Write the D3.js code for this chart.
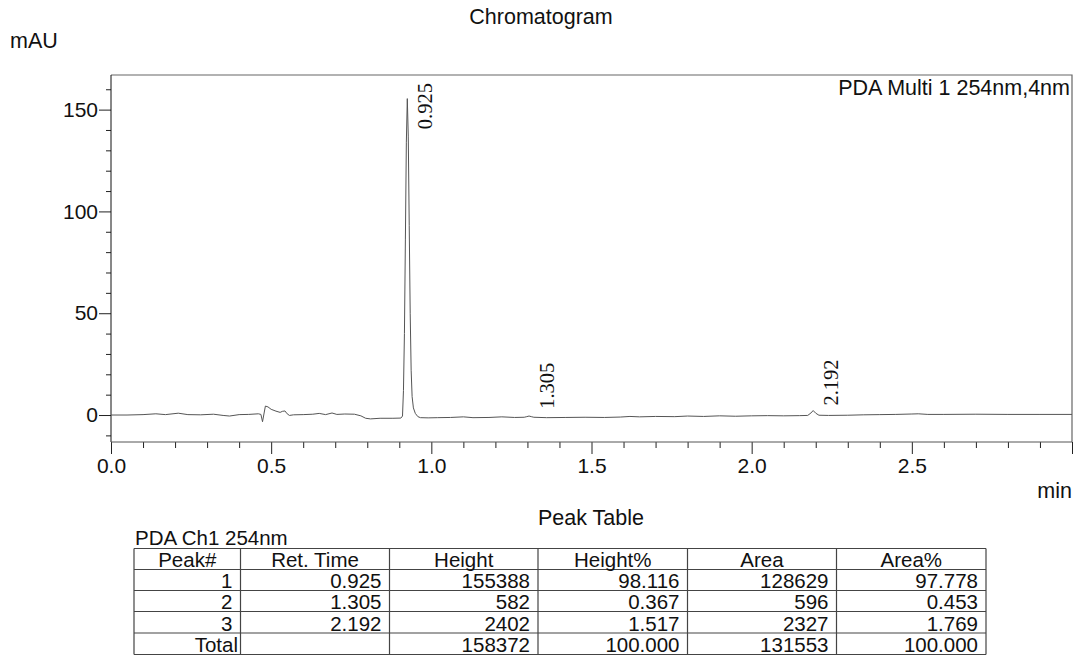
<!DOCTYPE html>
<html>
<head>
<meta charset="utf-8">
<script src="https://cdn.jsdelivr.net/npm/d3@7"></script>
<style>
  html, body { margin: 0; padding: 0; background: #fff; }
  svg { display: block; }
  text { font-family: "Liberation Sans", Arial, sans-serif; fill: #111; }
</style>
</head>
<body>
<svg id="chart" width="1077" height="657"></svg>
<script>
// Detector trace: retention time (min) and absorbance (mAU)
const traceTime = [
  0.000, 0.050, 0.100, 0.140, 0.170, 0.210, 0.240, 0.280, 0.320, 0.350,
  0.370, 0.400, 0.430, 0.460, 0.468, 0.473, 0.478, 0.482, 0.490, 0.500,
  0.515, 0.528, 0.535, 0.543, 0.550, 0.557, 0.570, 0.600, 0.630, 0.650,
  0.670, 0.690, 0.705, 0.730, 0.760, 0.780, 0.795, 0.810, 0.840, 0.880,
  0.905, 0.910, 0.913, 0.916, 0.919, 0.922, 0.925, 0.928, 0.931, 0.934,
  0.937, 0.940, 0.944, 0.950, 0.958, 0.966, 0.990, 1.020, 1.060, 1.100,
  1.130, 1.180, 1.220, 1.260, 1.290, 1.298, 1.305, 1.312, 1.320, 1.360,
  1.420, 1.480, 1.540, 1.590, 1.620, 1.650, 1.700, 1.760, 1.800, 1.850,
  1.900, 1.950, 2.000, 2.050, 2.100, 2.150, 2.175, 2.185, 2.192, 2.200,
  2.210, 2.240, 2.300, 2.350, 2.400, 2.450, 2.500, 2.520, 2.550, 2.600,
  2.700, 2.800, 2.900, 3.000
];
const traceSignal = [
  0.0, 0.0, 0.2, 0.6, 0.2, 0.9, 0.2, 0.1, 0.4, -0.2,
  -0.5, 0.2, 0.3, 0.6, 0.3, -3.3, 1.0, 4.4, 4.0, 2.8,
  1.9, 1.3, 1.8, 2.0, 0.6, -0.2, 0.1, 0.2, 0.4, 0.8,
  0.2, 1.0, 0.3, 0.5, 0.4, -0.4, -1.6, -1.9, -1.6, -1.6,
  -1.5, -0.5, 12.0, 40.0, 86.0, 134.0, 155.4, 137.0, 93.0, 50.0,
  22.0, 9.0, 3.5, 0.8, -0.8, -1.3, -1.4, -1.3, -1.2, -0.9,
  -1.3, -1.2, -0.9, -1.2, -1.1, -0.8, -0.5, -0.8, -1.1, -1.3,
  -1.2, -1.1, -1.2, -1.0, -0.7, -0.9, -0.7, -0.8, -0.5, -0.7,
  -0.4, -0.6, -0.4, -0.3, -0.4, -0.3, -0.2, 1.0, 2.2, 0.9,
  -0.1, -0.2, -0.1, 0.1, 0.2, 0.3, 0.5, 0.6, 0.3, 0.3,
  0.4, 0.3, 0.3, 0.3
];

// Integrated peaks (retention time, apex in mAU)
const peakTimes = [0.925, 1.305, 2.192];
const peakApex = [155.4, 0.58, 2.2];
const peakLabels = ["0.925", "1.305", "2.192"];

// Axis ticks
const yMajorTicks = [0, 50, 100, 150];
const yMinorTicks = [-10, 10, 20, 30, 40, 60, 70, 80, 90, 110, 120, 130, 140, 160];
const xMajorTicks = [0.0, 0.5, 1.0, 1.5, 2.0, 2.5, 3.0];
const xLabelTicks = [0.0, 0.5, 1.0, 1.5, 2.0, 2.5];
const xMinorTicks = [0.1,0.2,0.3,0.4,0.6,0.7,0.8,0.9,1.1,1.2,1.3,1.4,1.6,1.7,1.8,1.9,2.1,2.2,2.3,2.4,2.6,2.7,2.8,2.9];

// Peak table
const tableHeaders = ["Peak#", "Ret. Time", "Height", "Height%", "Area", "Area%"];
const colPeak = ["1", "2", "3", "Total"];
const colRetTime = ["0.925", "1.305", "2.192", ""];
const colHeight = ["155388", "582", "2402", "158372"];
const colHeightPct = ["98.116", "0.367", "1.517", "100.000"];
const colArea = ["128629", "596", "2327", "131553"];
const colAreaPct = ["97.778", "0.453", "1.769", "100.000"];

const svg = d3.select("#chart");
const plot = { left: 111, right: 1072, top: 75, bottom: 442 };
const FS = "21.5px";      // titles and captions
const FS_CELL = "20.5px"; // table cells

const x = d3.scaleLinear().domain([0, 3]).range([plot.left, plot.right]);
const y = d3.scaleLinear().domain([-13.25, 167]).range([plot.bottom, plot.top]);

// Titles
svg.append("text").attr("x", 541).attr("y", 24).attr("text-anchor", "middle")
  .style("font-size", FS).text("Chromatogram");
svg.append("text").attr("x", 10).attr("y", 48)
  .style("font-size", FS).text("mAU");
svg.append("text").attr("x", 1070).attr("y", 95).attr("text-anchor", "end")
  .style("font-size", FS).text("PDA Multi 1 254nm,4nm");
svg.append("text").attr("x", 1072).attr("y", 498).attr("text-anchor", "end")
  .style("font-size", FS).text("min");

// Frame (top and right)
svg.append("path")
  .attr("d", `M${plot.left},${plot.top}H${plot.right}V${plot.bottom}`)
  .attr("fill", "none").attr("stroke", "#666").attr("stroke-width", 1.2);

// Y axis
const yMinor = svg.append("g").attr("transform", `translate(${plot.left},0)`)
  .call(d3.axisLeft(y).tickValues(yMinorTicks).tickSize(5).tickFormat(""));
yMinor.select(".domain").remove();
const yMajor = svg.append("g").attr("transform", `translate(${plot.left},0)`)
  .call(d3.axisLeft(y).tickValues(yMajorTicks).tickSize(12).tickPadding(1).tickSizeOuter(0));
yMajor.select(".domain").remove();
svg.append("line").attr("x1", plot.left).attr("x2", plot.left)
  .attr("y1", plot.top).attr("y2", plot.bottom).attr("stroke", "#111");

// X axis
const xMinor = svg.append("g").attr("transform", `translate(0,${plot.bottom})`)
  .call(d3.axisBottom(x).tickValues(xMinorTicks).tickSize(6).tickFormat(""));
xMinor.select(".domain").remove();
const xMajor = svg.append("g").attr("transform", `translate(0,${plot.bottom})`)
  .call(d3.axisBottom(x).tickValues(xMajorTicks).tickSize(12).tickPadding(4)
    .tickFormat(d => xLabelTicks.includes(d) ? d3.format(".1f")(d) : ""));
xMajor.select(".domain").remove();
svg.append("line").attr("x1", plot.left).attr("x2", plot.right)
  .attr("y1", plot.bottom).attr("y2", plot.bottom).attr("stroke", "#555");

svg.selectAll(".tick line").attr("stroke", "#222");
svg.selectAll(".tick text").style("font-size", "21px")
  .style("font-family", "'Liberation Sans', Arial, sans-serif").attr("fill", "#111");

// Trace
const trace = traceTime.map((t, i) => [t, traceSignal[i]]);
svg.append("path")
  .datum(trace)
  .attr("fill", "none")
  .attr("stroke", "#555")
  .attr("stroke-width", 1)
  .attr("d", d3.line().x(d => x(d[0])).y(d => y(d[1])));

// Peak retention-time labels
peakTimes.forEach((t, i) => {
  const lbl = svg.append("text")
    .style("font-family", "'Liberation Serif', 'Times New Roman', serif")
    .style("font-size", "20.5px")
    .attr("fill", "#222")
    .text(peakLabels[i]);
  const len = lbl.node().getComputedTextLength();
  const bx = x(t) + 25;
  const by = Math.max(y(peakApex[i]) - 5, plot.top + 8 + len);
  lbl.attr("transform", `translate(${bx},${by}) rotate(-90)`);
});

// Peak table
svg.append("text").attr("x", 591).attr("y", 525).attr("text-anchor", "middle")
  .style("font-size", FS).text("Peak Table");
svg.append("text").attr("x", 135).attr("y", 545)
  .style("font-size", FS_CELL).text("PDA Ch1 254nm");

const colEdges = [134, 240.5, 389.5, 538, 687.5, 836.5, 986];
const rowEdges = [548.5, 569.5, 590.5, 611.5, 633, 654.5];
const columns = [colPeak, colRetTime, colHeight, colHeightPct, colArea, colAreaPct];

const tbl = svg.append("g");
colEdges.forEach(cx => {
  tbl.append("line").attr("x1", cx).attr("x2", cx)
    .attr("y1", rowEdges[0]).attr("y2", rowEdges[rowEdges.length - 1])
    .attr("stroke", "#444").attr("stroke-width", 1.2);
});
rowEdges.forEach(ry => {
  tbl.append("line").attr("x1", colEdges[0]).attr("x2", colEdges[colEdges.length - 1])
    .attr("y1", ry).attr("y2", ry)
    .attr("stroke", "#444").attr("stroke-width", 1.2);
});
tableHeaders.forEach((h, c) => {
  tbl.append("text")
    .attr("x", (colEdges[c] + colEdges[c + 1]) / 2)
    .attr("y", rowEdges[1] - 3)
    .attr("text-anchor", "middle")
    .style("font-size", FS_CELL)
    .text(h);
});
columns.forEach((col, c) => {
  col.forEach((v, r) => {
    const pad = (c === 0 && r === 3) ? 2.5 : 8;
    tbl.append("text")
      .attr("x", colEdges[c + 1] - pad)
      .attr("y", rowEdges[r + 2] - 2.5)
      .attr("text-anchor", "end")
      .style("font-size", FS_CELL)
      .text(v);
  });
});
</script>
</body>
</html>
